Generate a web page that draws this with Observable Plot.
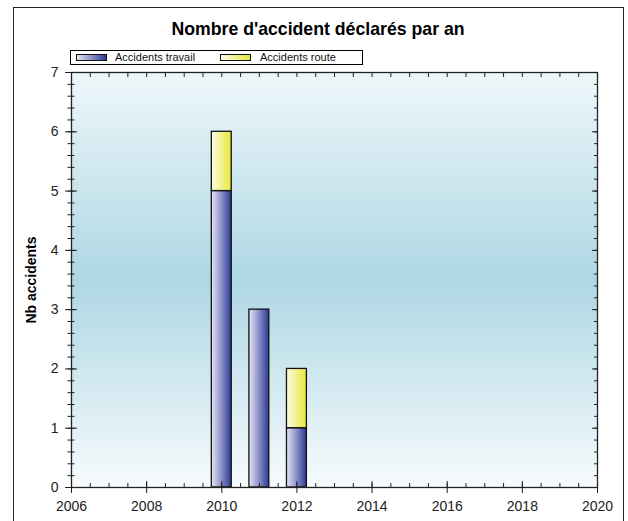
<!DOCTYPE html>
<html><head><meta charset="utf-8">
<script src="https://cdn.jsdelivr.net/npm/d3@7"></script>
<script src="https://cdn.jsdelivr.net/npm/@observablehq/plot@0.6"></script>
<style>
body{margin:0;background:#fff;font-family:Arial,"Liberation Sans",sans-serif;}
#wrap{position:relative;width:628px;height:521px;overflow:hidden;}
#border{position:absolute;left:13px;top:7px;width:611px;height:560px;border:1.5px solid #222;box-sizing:border-box;}
#title{position:absolute;left:0;width:636px;top:21px;line-height:17.7px;text-align:center;font-weight:bold;font-size:17.7px;color:#000;white-space:nowrap;}
#legend{position:absolute;left:70px;top:50px;width:293px;height:15px;border:1px solid #000;box-sizing:border-box;}
.sw{position:absolute;top:54px;width:31px;height:7px;border:1px solid #111;box-sizing:border-box;}
.lt{position:absolute;top:51.5px;line-height:11px;font-size:11px;color:#111;white-space:nowrap;}
#ylab{position:absolute;left:31px;top:280px;transform:translate(-50%,-50%) rotate(-90deg);font-weight:bold;font-size:14px;white-space:nowrap;color:#000;}
#plot{position:absolute;left:0;top:0;}
</style></head>
<body>
<div id="wrap">
  <div id="border"></div>
  <div id="plot"></div>
  <div id="title"></div>
  <div id="legend"></div>
  <div class="sw" style="left:76px;background:linear-gradient(to right,#e4e4f3,#2c3c94);"></div>
  <div class="lt" id="l1" style="left:115px;"></div>
  <div class="sw" style="left:220px;background:linear-gradient(to right,#fafae6,#e8e83c);"></div>
  <div class="lt" id="l2" style="left:260px;"></div>
  <div id="ylab"></div>
</div>
<script>
const title = "Nombre d'accident déclarés par an";
const yLabel = "Nb accidents";
const seriesNames = ["Accidents travail", "Accidents route"];
const years = [2010, 2011, 2012];
const travail = [5, 3, 1];
const route = [1, 0, 1];
const xTicks = [2006, 2008, 2010, 2012, 2014, 2016, 2018, 2020];
const yTicks = [0, 1, 2, 3, 4, 5, 6, 7];

document.getElementById("title").textContent = title;
document.getElementById("l1").textContent = seriesNames[0];
document.getElementById("l2").textContent = seriesNames[1];
document.getElementById("ylab").textContent = yLabel;

const rows = [];
years.forEach((yr, i) => {
  rows.push({year: yr, series: seriesNames[0], y1: 0, y2: travail[i]});
  if (route[i] > 0) rows.push({year: yr, series: seriesNames[1], y1: travail[i], y2: travail[i] + route[i]});
});

const xMinor = d3.range(2006, 2020.001, 0.5);
const yMinor = d3.range(0, 7.001, 0.2);
const blank = () => "";

const chart = Plot.plot({
  width: 628,
  height: 521,
  marginLeft: 71,
  marginRight: 31,
  marginTop: 72,
  marginBottom: 34,
  style: {fontFamily: "Arial, 'Liberation Sans', sans-serif", color: "#222", background: "transparent"},
  x: {domain: [2006, 2020]},
  y: {domain: [0, 7]},
  color: {domain: seriesNames, range: ["url(#gBlue)", "url(#gYellow)"]},
  marks: [
    Plot.frame({fill: "url(#gBg)", stroke: null}),
    Plot.rectY(rows, {x1: d => d.year - 0.265, x2: d => d.year + 0.265, y1: "y1", y2: "y2", fill: "series", stroke: "#111", strokeWidth: 1.3}),
    Plot.frame({stroke: "#222", strokeWidth: 1.3}),
    // left axis
    Plot.axisY(yTicks, {tickSize: 6, tickPadding: 7, fontSize: 14, tickFormat: d => String(d), label: null}),
    Plot.axisY(yTicks, {tickSize: -6, tickFormat: blank, label: null}),
    Plot.axisY(yMinor, {tickSize: 3.5, tickFormat: blank, label: null}),
    Plot.axisY(yMinor, {tickSize: -3.5, tickFormat: blank, label: null}),
    // right axis
    Plot.axisY(yTicks, {anchor: "right", tickSize: -6, tickFormat: blank, label: null}),
    Plot.axisY(yMinor, {anchor: "right", tickSize: -4, tickFormat: blank, label: null}),
    // bottom axis
    Plot.axisX(xTicks, {tickSize: 6, tickPadding: 8, fontSize: 14, tickFormat: d => String(d), label: null}),
    Plot.axisX(xTicks, {tickSize: -6, tickFormat: blank, label: null}),
    Plot.axisX(xMinor, {tickSize: -4, tickFormat: blank, label: null}),
    // top axis
    Plot.axisX(xMinor, {anchor: "top", tickSize: -4, tickFormat: blank, label: null})
  ]
});

d3.select(chart).insert("defs", ":first-child").html(`
  <linearGradient id="gBg" x1="0" y1="0" x2="0" y2="1">
    <stop offset="0" stop-color="#eef7fa"/>
    <stop offset="0.5" stop-color="#aed7e4"/>
    <stop offset="1" stop-color="#f7fbfd"/>
  </linearGradient>
  <linearGradient id="gBlue" x1="0" y1="0" x2="1" y2="0">
    <stop offset="0" stop-color="#e6e6f4"/>
    <stop offset="0.5" stop-color="#8c90c8"/>
    <stop offset="1" stop-color="#2a3a92"/>
  </linearGradient>
  <linearGradient id="gYellow" x1="0" y1="0" x2="1" y2="0">
    <stop offset="0" stop-color="#fbfbe8"/>
    <stop offset="1" stop-color="#e8e838"/>
  </linearGradient>`);

document.getElementById("plot").appendChild(chart);
</script>
</body></html>
